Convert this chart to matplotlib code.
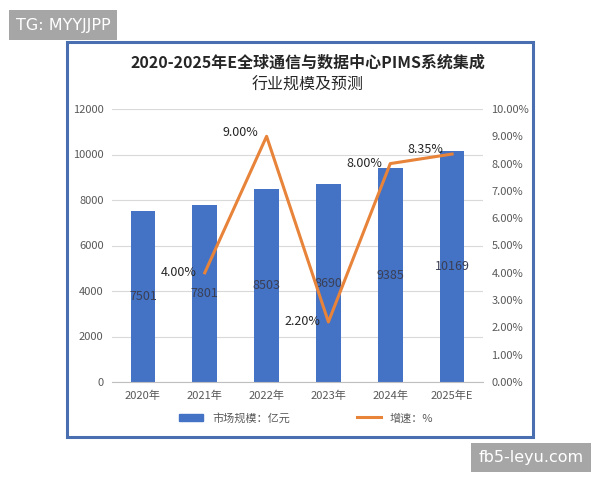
import matplotlib.pyplot as plt
from matplotlib.patches import Rectangle
from matplotlib.lines import Line2D
from matplotlib.ticker import FuncFormatter

plt.rcParams['font.family'] = ['Noto Sans CJK SC', 'DejaVu Sans']

years = ['2020年', '2021年', '2022年', '2023年', '2024年', '2025年E']
market = [7501, 7801, 8503, 8690, 9385, 10169]
growth_years = years[1:]
growth = [4.00, 9.00, 2.20, 8.00, 8.35]

BLUE = '#4472C4'
ORANGE = '#E8833A'
TICK = '#595959'
W, H = 600, 480


def fig_box(x0, y0, x1, y1, **kw):
    # rectangle given in pixel coords measured from the top-left corner
    return Rectangle((x0 / W, 1 - y1 / H), (x1 - x0) / W, (y1 - y0) / H,
                     transform=fig.transFigure, **kw)


fig = plt.figure(figsize=(6, 4.8), dpi=100)

# outer blue frame
fig.patches.append(fig_box(67, 42, 533, 437, fill=False,
                           edgecolor='#4A6FB0', linewidth=2.2))

ax = fig.add_axes([112 / W, 1 - 382 / H, 371 / W, 273 / H])
x = list(range(len(years)))
bars = ax.bar(x, market, width=0.4, color=BLUE, zorder=2)
for b, v in zip(bars, market):
    ax.text(b.get_x() + b.get_width() / 2, v / 2, str(v), ha='center', va='center',
            fontsize=9, color='#3A3F55', zorder=3)

ax.set_ylim(0, 12000)
ax.set_yticks(range(0, 12001, 2000))
ax.set_xlim(-0.5, len(years) - 0.5)
ax.set_xticks(x)
ax.set_xticklabels(years)
ax.grid(axis='y', color='#D9D9D9', linewidth=0.8, zorder=0)
for s in ['top', 'right', 'left']:
    ax.spines[s].set_visible(False)
ax.spines['bottom'].set_color('#BFBFBF')
ax.tick_params(axis='both', length=0, labelsize=8, colors=TICK, pad=6)

ax2 = ax.twinx()
gx = [years.index(y) for y in growth_years]
ax2.plot(gx, growth, color=ORANGE, linewidth=2.2, zorder=4)
for xi, g in zip(gx, growth):
    ax2.annotate(f'{g:.2f}%', (xi, g), xytext=(-6, 3 if g > 8.2 else 0),
                 textcoords='offset points', ha='right', va='center',
                 fontsize=9, color='#262626')
ax2.set_ylim(0, 10)
ax2.set_yticks(range(0, 11))
ax2.yaxis.set_major_formatter(FuncFormatter(lambda v, p: f'{v:.2f}%'))
for s in ['top', 'right', 'left', 'bottom']:
    ax2.spines[s].set_visible(False)
ax2.tick_params(axis='y', length=0, labelsize=8, colors=TICK, pad=6)

fig.text(0.513, 1 - 63 / H, '2020-2025年E全球通信与数据中心PIMS系统集成', ha='center',
         va='center', fontsize=11.5, fontweight='bold', color='#262626')
fig.text(0.513, 1 - 85 / H, '行业规模及预测', ha='center', va='center',
         fontsize=11.5, color='#262626')

handles = [Rectangle((0, 0), 1, 1, color=BLUE),
           Line2D([0], [0], color=ORANGE, linewidth=2.2)]
fig.legend(handles, ['市场规模：亿元', '增速：%'], loc='center',
           bbox_to_anchor=(0.51, 1 - 418 / H), ncol=2, frameon=False,
           fontsize=8, labelcolor=TICK, columnspacing=6, handlelength=2.2)

# corner tags
fig.patches.append(fig_box(9, 10, 117, 40, facecolor='#A6A6A6', edgecolor='none'))
fig.text(63 / W, 1 - 25.5 / H, 'TG: MYYJJPP', ha='center', va='center', fontsize=11.5,
         color='white', family='DejaVu Sans')
fig.patches.append(fig_box(471, 443, 591, 472, facecolor='#A6A6A6', edgecolor='none'))
fig.text(531 / W, 1 - 457.5 / H, 'fb5-leyu.com', ha='center', va='center', fontsize=11.5,
         color='white', family='DejaVu Sans')

fig.savefig('out.png', dpi=100)
